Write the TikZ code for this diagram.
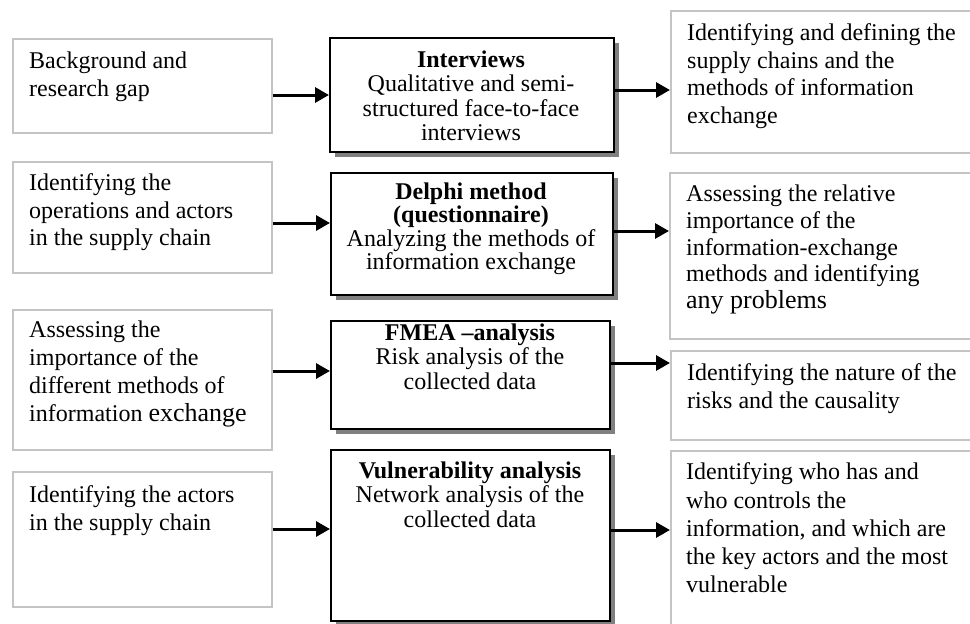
\documentclass[tikz,border=0pt]{standalone}
\usepackage{fontspec}
\setmainfont{Liberation Serif}
\usetikzlibrary{arrows.meta,shadows}
\definecolor{edgegray}{RGB}{196,196,196}
\definecolor{shadegray}{RGB}{128,128,128}
\begin{document}
\begin{tikzpicture}[x=1pt,y=-1pt,
  sidebox/.style={draw=edgegray,line width=1.6pt,fill=white,inner sep=0pt,anchor=north west},
  corebox/.style={draw=black,line width=1.5pt,fill=white,inner sep=0pt,anchor=north west,
    general shadow={fill=shadegray,shadow xshift=5pt,shadow yshift=-5pt}},
  sidetext/.style={inner sep=0pt,anchor=north west,align=left,font=\fontsize{24}{27.6}\selectfont},
  coretext/.style={inner sep=0pt,anchor=north,align=center,font=\fontsize{24}{24.5}\selectfont},
  flow/.style={line width=3pt,-{Triangle[length=14pt,width=15pt]}}]
\useasboundingbox (0,0) rectangle (970,624);
\clip (0,0) rectangle (970,624);

% left column: starting points
\node[sidebox,minimum width=259pt,minimum height=94pt]  (l1) at (12,38)  {};
\node[sidebox,minimum width=259pt,minimum height=111pt] (l2) at (12,161) {};
\node[sidebox,minimum width=259pt,minimum height=140pt] (l3) at (12,309) {};
\node[sidebox,minimum width=259pt,minimum height=135pt] (l4) at (12,471) {};

% middle column: methods
\node[corebox,minimum width=284pt,minimum height=114pt] (m1) at (329,37)  {};
\node[corebox,minimum width=282pt,minimum height=122pt] (m2) at (330,172) {};
\node[corebox,minimum width=279pt,minimum height=108pt] (m3) at (330,320) {};
\node[corebox,minimum width=279pt,minimum height=171pt] (m4) at (330,449) {};

% right column: outcomes (running off the right edge)
\node[sidebox,minimum width=330pt,minimum height=142pt] (r1) at (670,10)  {};
\node[sidebox,minimum width=330pt,minimum height=166pt] (r2) at (669,172) {};
\node[sidebox,minimum width=330pt,minimum height=89pt]  (r3) at (670,350) {};
\node[sidebox,minimum width=330pt,minimum height=190pt] (r4) at (670,450) {};

% texts, left (top of first line = its baseline - 16.4pt)
\node[sidetext] (tl1) at (29,51.6)  {Background and\\research gap};
\node[sidetext] (tl2) at (29,173.6) {Identifying the\\operations and actors\\in the supply chain};
\node[sidetext,font=\fontsize{24}{28}\selectfont] (tl3) at (29,320.6)
  {Assessing the\\importance of the\\different methods of\\information {\fontsize{26}{28}\selectfont exchange}};
\node[sidetext] (tl4) at (29,485.6) {Identifying the actors\\in the supply chain};

% texts, middle
\node[coretext] (tm1) at (471,50.6)  {\textbf{Interviews}\\Qualitative and semi-\\structured face-to-face\\interviews};
\node[coretext,font=\fontsize{24}{23.5}\selectfont] (tm2) at (471,182.6) {\textbf{Delphi method}\\\textbf{(questionnaire)}\\Analyzing the methods of\\information exchange};
\node[coretext] (tm3) at (470,323.6) {\textbf{FMEA –analysis}\\Risk analysis of the\\collected data};
\node[coretext] (tm4) at (470,461.6) {\textbf{Vulnerability analysis}\\Network analysis of the\\collected data};

% texts, right
\node[sidetext] (tr1) at (687,23.6)  {Identifying and defining the\\supply chains and the\\methods of information\\exchange};
\node[sidetext,font=\fontsize{24}{26.8}\selectfont] (tr2) at (686,184.6) {Assessing the relative\\importance of the\\information-exchange\\methods and identifying\\{\fontsize{26}{27}\selectfont any problems}};
\node[sidetext] (tr3) at (687,363.6) {Identifying the nature of the\\risks and the causality};
\node[sidetext,font=\fontsize{24}{28.3}\selectfont] (tr4) at (686,462.6) {Identifying who has and\\who controls the\\information, and which are\\the key actors and the most\\vulnerable};

% connectors
\draw[flow] (l1.east |- 0,95)  -- (m1.west |- 0,95);
\draw[flow] (l2.east |- 0,223) -- (m2.west |- 0,223);
\draw[flow] (l3.east |- 0,371) -- (m3.west |- 0,371);
\draw[flow] (l4.east |- 0,529) -- (m4.west |- 0,529);
\draw[flow] (m1.east |- 0,90)  -- (r1.west |- 0,90);
\draw[flow] (m2.east |- 0,231) -- (r2.west |- 0,231);
\draw[flow] (m3.east |- 0,363) -- (r3.west |- 0,363);
\draw[flow] (m4.east |- 0,530) -- (r4.west |- 0,530);
\end{tikzpicture}
\end{document}
